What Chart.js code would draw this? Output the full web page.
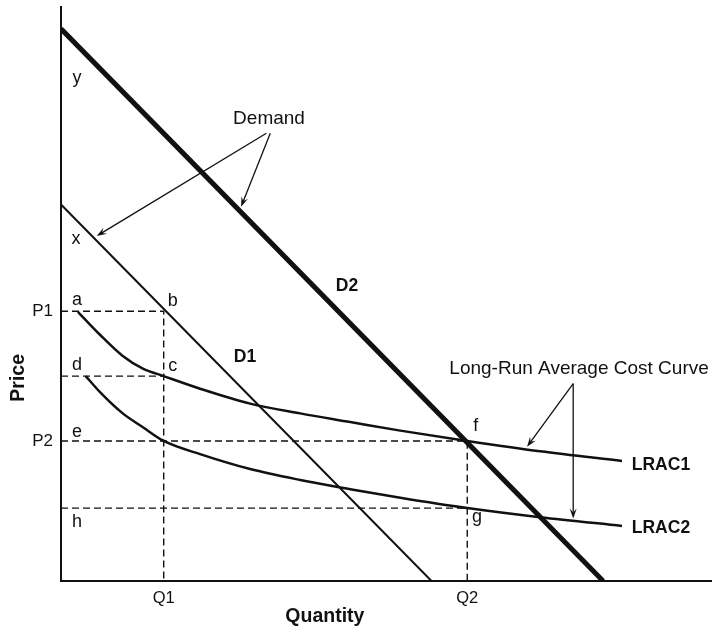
<!DOCTYPE html>
<html>
<head>
<meta charset="utf-8">
<script src="https://cdn.jsdelivr.net/npm/chart.js@4.4.1/dist/chart.umd.min.js"></script>
<style>
  html, body { margin: 0; padding: 0; background: #fff; }
  canvas { display: block; }
</style>
</head>
<body>
<canvas id="c" width="712" height="628"></canvas>
<script>
// ---- Data (quantity 0..100, price 0..100, arbitrary units) ----
const d1Q = [0, 57.0];
const d1P = [65.6, 0];
const d2Q = [0, 83.4];
const d2P = [96.2, 0];
const lrac1Q = [2.6, 6.0, 9.4, 12.6, 15.8, 21.4, 29.1, 36.8, 44.5, 52.2, 62.5, 73.7, 86.3];
const lrac1P = [46.9, 42.9, 39.3, 37.0, 35.7, 33.5, 30.9, 29.2, 27.7, 26.2, 24.4, 22.6, 20.9];
const lrac2Q = [3.8, 6.0, 9.5, 12.6, 15.8, 21.4, 29.1, 36.8, 44.5, 52.2, 62.5, 73.7, 86.3];
const lrac2P = [35.7, 32.9, 29.2, 26.8, 24.4, 22.1, 19.5, 17.6, 16.0, 14.5, 12.7, 11.1, 9.6];
const priceTicks = [47.0, 24.4];
const priceTickLabels = ['P1', 'P2'];
const qtyTicks = [15.8, 62.5];
const qtyTickLabels = ['Q1', 'Q2'];
const levelC = 35.7;   // price at point c / d
const levelH = 12.7;   // price at point g / h

const INK = '#111';
const FONT = '"Liberation Sans", Arial, Helvetica, sans-serif';

const toPts = (qs, ps) => qs.map((q, i) => ({ x: q, y: ps[i] }));
const P1 = priceTicks[0], P2 = priceTicks[1], Q1 = qtyTicks[0], Q2 = qtyTicks[1];

const dashStyle = { borderColor: INK, borderWidth: 1.4, borderDash: [7, 4], pointRadius: 0, showLine: true, fill: false, tension: 0 };

const datasets = [
  Object.assign({ label: 'P1 guide', data: [{x:0,y:P1},{x:Q1,y:P1},{x:Q1,y:0}] }, dashStyle),
  Object.assign({ label: 'c guide', data: [{x:0,y:levelC},{x:Q1,y:levelC}] }, dashStyle),
  Object.assign({ label: 'P2 guide', data: [{x:0,y:P2},{x:Q2,y:P2},{x:Q2,y:0}] }, dashStyle),
  Object.assign({ label: 'h guide', data: [{x:0,y:levelH},{x:Q2,y:levelH}] }, dashStyle),
  { label: 'LRAC1', data: toPts(lrac1Q, lrac1P), borderColor: INK, borderWidth: 2.5, pointRadius: 0, showLine: true, cubicInterpolationMode: 'monotone' },
  { label: 'LRAC2', data: toPts(lrac2Q, lrac2P), borderColor: INK, borderWidth: 2.5, pointRadius: 0, showLine: true, cubicInterpolationMode: 'monotone' },
  { label: 'D1', data: toPts(d1Q, d1P), borderColor: INK, borderWidth: 2, pointRadius: 0, showLine: true },
  { label: 'D2', data: toPts(d2Q, d2P), borderColor: INK, borderWidth: 5, pointRadius: 0, showLine: true }
];

// annotation texts and arrows (positions in data units)
const notes = [
  ['y', 2.46, 87.7, false, 18], ['x', 2.31, 59.6, false, 18],
  ['a', 2.46, 48.9, false, 18], ['b', 17.2, 48.7, false, 18],
  ['d', 2.46, 37.6, false, 18], ['c', 17.2, 37.4, false, 18],
  ['e', 2.46, 25.9, false, 18], ['h', 2.46, 10.2, false, 18],
  ['f', 63.8, 27.0, false, 18], ['g', 64.0, 11.1, false, 18],
  ['D1', 28.3, 39.0, true, 17.5], ['D2', 44.0, 51.4, true, 17.5],
  ['Demand', 32.0, 80.5, false, 19],
  ['Long-Run Average Cost Curve', 79.7, 36.9, false, 19],
  ['LRAC1', 92.3, 20.2, true, 17.5], ['LRAC2', 92.3, 9.2, true, 17.5]
];
const arrows = [
  [31.6, 78.0, 5.5, 60.1],
  [32.2, 78.0, 27.7, 65.2],
  [78.8, 34.4, 71.7, 23.4],
  [78.8, 34.4, 78.8, 10.9]
];

const annot = {
  id: 'annot',
  afterDatasetsDraw(chart) {
    const { ctx, scales: { x, y }, chartArea } = chart;
    ctx.save();
    ctx.strokeStyle = INK; ctx.fillStyle = INK;
    ctx.lineWidth = 1.3;
    arrows.forEach(([x0, y0, x1, y1]) => {
      const ax = x.getPixelForValue(x0), ay = y.getPixelForValue(y0);
      const bx = x.getPixelForValue(x1), by = y.getPixelForValue(y1);
      const ang = Math.atan2(by - ay, bx - ax);
      const L = 10, W = 3.5;
      ctx.beginPath(); ctx.moveTo(ax, ay);
      ctx.lineTo(bx - Math.cos(ang) * L * 0.6, by - Math.sin(ang) * L * 0.6); ctx.stroke();
      ctx.beginPath();
      ctx.moveTo(bx, by);
      ctx.lineTo(bx - Math.cos(ang) * L - Math.sin(ang) * W, by - Math.sin(ang) * L + Math.cos(ang) * W);
      ctx.lineTo(bx - Math.cos(ang) * L * 0.6, by - Math.sin(ang) * L * 0.6);
      ctx.lineTo(bx - Math.cos(ang) * L + Math.sin(ang) * W, by - Math.sin(ang) * L - Math.cos(ang) * W);
      ctx.closePath(); ctx.fill();
    });
    ctx.textAlign = 'center'; ctx.textBaseline = 'middle';
    notes.forEach(([t, q, p, bold, size]) => {
      ctx.font = (bold ? 'bold ' : '') + size + 'px ' + FONT;
      ctx.fillText(t, x.getPixelForValue(q), y.getPixelForValue(p));
    });
    // axis titles
    ctx.font = 'bold 19.5px ' + FONT;
    ctx.fillText('Quantity', x.getPixelForValue(40.6), chartArea.bottom + 36);
    ctx.save();
    ctx.translate(19, y.getPixelForValue(35.4));
    ctx.rotate(-Math.PI / 2);
    ctx.fillText('Price', 0, 0);
    ctx.restore();
    ctx.restore();
  }
};

new Chart(document.getElementById('c'), {
  type: 'scatter',
  data: { datasets },
  options: {
    responsive: false,
    animation: false,
    layout: { padding: { top: 7, right: 1, left: 0, bottom: 0 } },
    plugins: { legend: { display: false }, tooltip: { enabled: false } },
    elements: { line: { borderCapStyle: 'butt' } },
    scales: {
      x: {
        type: 'linear', min: 0, max: 100,
        grid: { display: false, drawTicks: false },
        border: { display: true, color: INK, width: 2 },
        ticks: { color: INK, padding: 8, maxRotation: 0, font: { family: FONT, size: 16.5 },
                 callback: (v, i) => qtyTickLabels[i] },
        afterBuildTicks: s => { s.ticks = qtyTicks.map(v => ({ value: v })); },
        afterFit: s => { s.height = 47; s.paddingLeft = 0; s.paddingRight = 0; }
      },
      y: {
        type: 'linear', min: 0, max: 100,
        grid: { display: false, drawTicks: false },
        border: { display: true, color: INK, width: 2 },
        ticks: { color: INK, padding: 8, font: { family: FONT, size: 17 },
                 callback: (v, i) => priceTickLabels[i] },
        afterBuildTicks: s => { s.ticks = priceTicks.map(v => ({ value: v })); },
        afterFit: s => { s.width = 61; s.paddingTop = 0; s.paddingBottom = 0; }
      }
    }
  },
  plugins: [annot]
});
</script>
</body>
</html>
